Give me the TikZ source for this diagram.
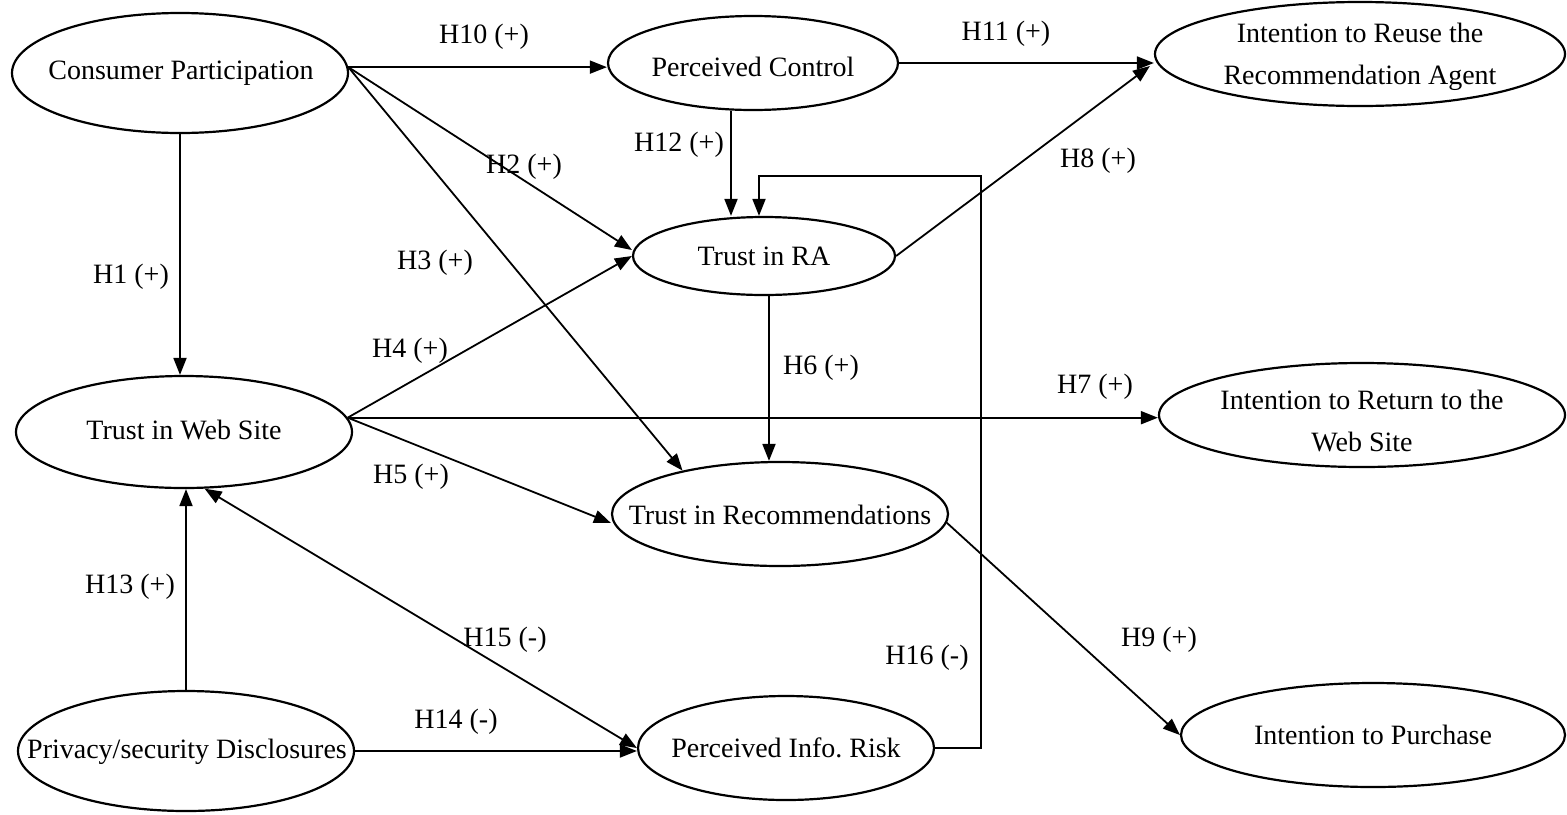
\documentclass[tikz,border=0pt]{standalone}
\usepackage{fontspec}
\setmainfont{Liberation Serif}
\usetikzlibrary{shapes.geometric,arrows.meta,calc}
\begin{document}
\frenchspacing
\begin{tikzpicture}[x=0.5pt,y=-0.5pt,
  every node/.style={font=\fontsize{14}{21}\selectfont},
  ell/.style={draw, ellipse, line width=1.1pt, inner sep=0pt},
  txt/.style={align=center, inner sep=0pt},
  arr/.style={line width=0.9pt, -{Triangle[length=8.5pt,width=6.5pt]}},
  darr/.style={line width=0.9pt, {Triangle[length=8.5pt,width=6.5pt]}-{Triangle[length=8.5pt,width=6.5pt]}},
  lab/.style={inner sep=0pt}]
\useasboundingbox (0,0) rectangle (1567,814);

% ellipses
\node[ell, minimum width=168pt, minimum height=60pt] (cp) at (180,73) {};
\node[ell, minimum width=145pt, minimum height=47pt] (pc) at (753,63) {};
\node[ell, minimum width=205pt, minimum height=52pt] (ir) at (1360,54) {};
\node[ell, minimum width=131pt, minimum height=39pt] (tra) at (764,256) {};
\node[ell, minimum width=168pt, minimum height=56pt] (tws) at (184,432) {};
\node[ell, minimum width=168pt, minimum height=52pt] (trec) at (780,514) {};
\node[ell, minimum width=203pt, minimum height=52pt] (iret) at (1362,415) {};
\node[ell, minimum width=168pt, minimum height=60pt] (psd) at (186,751) {};
\node[ell, minimum width=148pt, minimum height=52pt] (pir) at (786,748) {};
\node[ell, minimum width=192pt, minimum height=52pt] (ip) at (1373,735) {};

% texts
\node[txt] (cpT) at (181,73) {Consumer Participation};
\node[txt] (pcT) at (753,67) {Perceived Control};
\node[txt] (irT) at (1360,57) {Intention to Reuse the\\Recommendation Agent};
\node[txt] (traT) at (764,256) {Trust in RA};
\node[txt] (twsT) at (184,430) {Trust in Web Site};
\node[txt] (trecT) at (780,515) {Trust in Recommendations};
\node[txt] (iretT) at (1362,421) {Intention to Return to the\\Web Site};
\node[txt] (psdT) at (187,752) {Privacy/security Disclosures};
\node[txt] (pirT) at (786,748) {Perceived Info. Risk};
\node[txt] (ipT) at (1373,735) {Intention to Purchase};

% helper coordinate for H16 loop
\coordinate (h16c) at (981,176);

% connectors
\draw[arr] (cp.2) -- (cp.2 -| pc.west);
\draw[arr] (pc.east) -- (pc.east -| ir.west);
\draw[arr] ([xshift=-11pt]pc.south) -- ([xshift=-11pt]pc.south |- tra.north);
\draw[arr] (cp.2) -- ([yshift=3pt]tra.west);
\draw[arr] (cp.2) -- (trec.156);
\draw[arr] (cp.south) -- (cp.south |- tws.north);
\draw[arr] (tws.5) -- (tra.west);
\draw[arr] (tws.5) -- (tws.5 -| iret.west);
\draw[arr] (tws.5) -- ([yshift=-4.5pt]trec.west);
\draw[arr] ([xshift=2.5pt]tra.south) -- ([xshift=2.5pt]tra.south |- trec.north);
\draw[arr] (tra.east) -- ([xshift=-2pt,yshift=-6pt]ir.west);
\draw[arr] (trec.-3) -- (ip.west);
\draw[arr] (psd.north) -- (psd.north |- tws.south);
\draw[arr] (psd.east) -- (psd.east -| pir.west);
\draw[darr] (tws.-70) -- (pir.west);
\draw[arr] (pir.east) -| (h16c) -| ([xshift=-2.5pt]tra.north);

% labels
\node[lab] (l10) at (484,37) {H10 (+)};
\node[lab] (l11) at (1006,34) {H11 (+)};
\node[lab] (l12) at (679,145) {H12 (+)};
\node[lab] (l2) at (524,167) {H2 (+)};
\node[lab] (l8) at (1098,161) {H8 (+)};
\node[lab] (l1) at (131,277) {H1 (+)};
\node[lab] (l3) at (435,263) {H3 (+)};
\node[lab] (l4) at (410,351) {H4 (+)};
\node[lab] (l6) at (821,368) {H6 (+)};
\node[lab] (l7) at (1095,387) {H7 (+)};
\node[lab] (l5) at (411,477) {H5 (+)};
\node[lab] (l13) at (130,587) {H13 (+)};
\node[lab] (l15) at (505,640) {H15 (-)};
\node[lab] (l16) at (927,658) {H16 (-)};
\node[lab] (l9) at (1159,640) {H9 (+)};
\node[lab] (l14) at (456,722) {H14 (-)};
\end{tikzpicture}
\end{document}
